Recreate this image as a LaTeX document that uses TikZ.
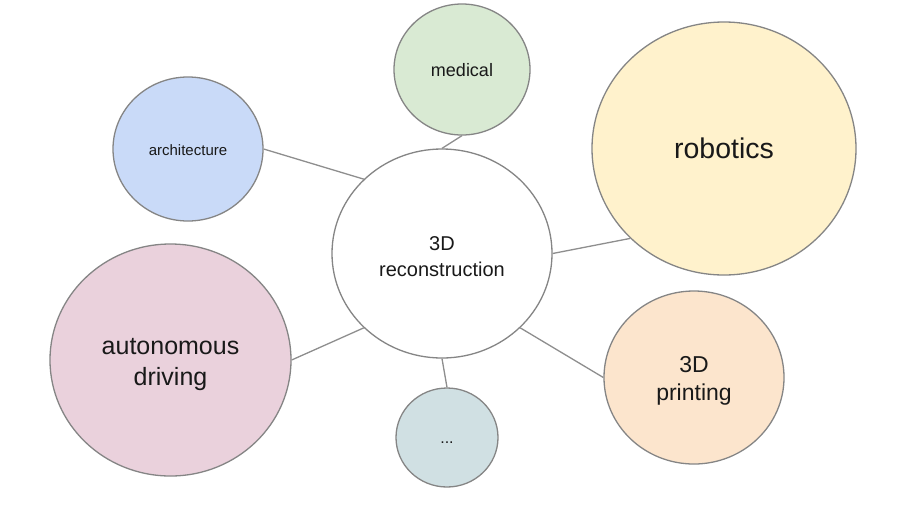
\documentclass[tikz,border=0pt]{standalone}
\usepackage{fontspec}
\setmainfont{Liberation Sans}
\usetikzlibrary{shapes.geometric}
\definecolor{archblue}{HTML}{C9DAF8}
\definecolor{medgreen}{HTML}{D9EAD3}
\definecolor{robyellow}{HTML}{FFF2CC}
\definecolor{automag}{HTML}{EAD1DC}
\definecolor{printorange}{HTML}{FCE5CD}
\definecolor{dotscyan}{HTML}{D0E0E3}
\definecolor{edgegray}{HTML}{858585}
\definecolor{linkgray}{HTML}{8E8E8E}
\tikzset{
  bubble/.style={ellipse, draw=edgegray, line width=1.3pt, inner sep=0pt},
  txt/.style={align=center, text=black!90, inner sep=0pt},
  link/.style={draw=linkgray, line width=1.3pt}
}
\begin{document}
\begin{tikzpicture}[x=1pt,y=-1pt]
\useasboundingbox (0,0) rectangle (902,515);
\fill[white] (0,0) rectangle (902,515);
\node[bubble, fill=white, minimum width=220pt, minimum height=209pt,
  label={[txt, font=\fontsize{20}{25.5}\selectfont, yshift=-3pt]center:3D\\reconstruction}] (c) at (442,253.5) {};
\node[bubble, fill=archblue, minimum width=150pt, minimum height=144pt,
  label={[txt, font=\fontsize{15}{18}\selectfont, yshift=-1pt]center:architecture}] (arch) at (188,149) {};
\node[bubble, fill=medgreen, minimum width=136pt, minimum height=131pt,
  label={[txt, font=\fontsize{18}{22}\selectfont, yshift=-1pt]center:medical}] (med) at (462,69.5) {};
\node[bubble, fill=robyellow, minimum width=264pt, minimum height=253pt,
  label={[txt, font=\fontsize{28.5}{34}\selectfont]center:robotics}] (rob) at (724,148.5) {};
\node[bubble, fill=automag, minimum width=241pt, minimum height=232pt,
  label={[txt, font=\fontsize{25}{30.5}\selectfont, yshift=-4.5pt]center:autonomous\\driving}] (auto) at (170.5,360) {};
\node[bubble, fill=printorange, minimum width=180pt, minimum height=173pt,
  label={[txt, font=\fontsize{23}{28}\selectfont, yshift=-3pt]center:3D\\printing}] (print) at (694,377.5) {};
\node[bubble, fill=dotscyan, minimum width=102pt, minimum height=99pt,
  label={[txt, font=\fontsize{16}{19}\selectfont, yshift=-5pt]center:...}] (dots) at (447,437.5) {};
\draw[link] (arch.east) -- (c.north west);
\draw[link] (med.south) -- (c.north);
\draw[link] (rob.south west) -- (c.east);
\draw[link] (auto.east) -- (c.south west);
\draw[link] (dots.north) -- (c.south);
\draw[link] (print.west) -- (c.south east);
\end{tikzpicture}
\end{document}
